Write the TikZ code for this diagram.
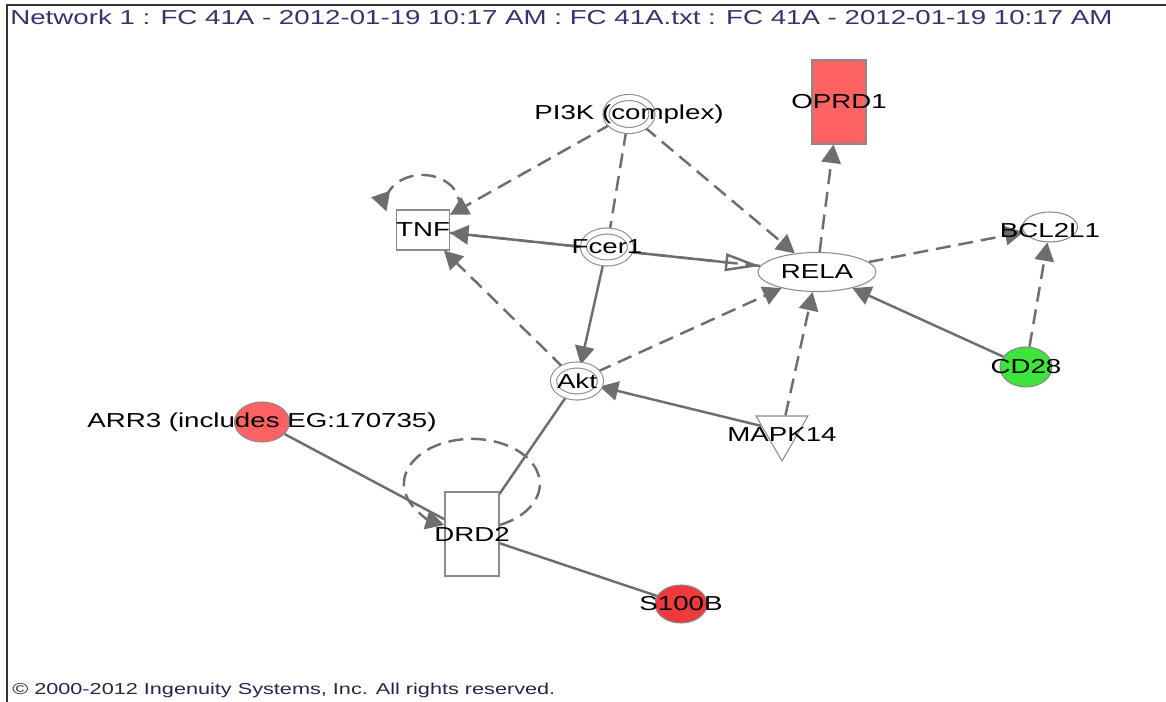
\documentclass[tikz,border=0pt]{standalone}
\usepackage{fontspec}
\setmainfont{Liberation Sans}[FakeStretch=1.37]
\usetikzlibrary{arrows.meta}
\usetikzlibrary{shapes.geometric}
\usetikzlibrary{backgrounds}

\definecolor{edgegray}{HTML}{6E6E6E}
\definecolor{bordergray}{HTML}{8A8A8A}
\definecolor{titleblue}{HTML}{34346E}
\definecolor{uplight}{HTML}{FF6262}
\definecolor{upstrong}{HTML}{EE3A3A}
\definecolor{downgreen}{HTML}{3CE43C}

\begin{document}
\begin{tikzpicture}[x=0.02cm,y=-0.02cm,
  gene/.style={draw=bordergray,line width=0.6pt,fill=white,inner sep=0pt},
  complexgene/.style={gene,ellipse,double=white,double distance=0.1cm},
  every label/.style={font=\fontsize{11.5}{12}\selectfont,inner sep=0pt},
  edge/.style={draw=edgegray,line width=1.4pt},
  dashed edge/.style={edge,dash pattern=on 8.5pt off 4.5pt},
  acts/.style={-{Triangle[length=10.5pt,width=11pt]}},
  leadsto/.style={-{Triangle[open,length=20pt,width=10pt]}}
]
\useasboundingbox (0,0) rectangle (1166,702);

\draw[line width=0.7pt,black!80] (7,702) -- (7,5) -- (1166,5);

\node (title) at (10,17) [anchor=west,inner sep=0pt,text=titleblue,font=\fontsize{11.5}{12}\selectfont]
{Network 1 : FC 41A - 2012-01-19 10:17 AM : FC 41A.txt : FC 41A - 2012-01-19 10:17 AM};
\node (rights) at (12,690) [anchor=west,inner sep=0pt,text=titleblue!70!black,font=\fontsize{9}{10}\selectfont]
{© 2000-2012 Ingenuity Systems, Inc. All rights reserved.};

\node (pi3k) at (629,114) [complexgene,minimum width=0.92cm,minimum height=0.66cm,label=center:PI3K (complex)] {};
\node (fcer1) at (607,247) [complexgene,minimum width=0.94cm,minimum height=0.64cm,label=center:Fcer1] {};
\node (akt) at (577,381) [complexgene,minimum width=0.94cm,minimum height=0.64cm,label=center:Akt] {};
\node (oprd1) at (839,102) [gene,rectangle,fill=uplight,minimum width=1.08cm,minimum height=1.68cm,label=center:OPRD1] {};
\node (tnf) at (423,230) [gene,rectangle,minimum width=1.06cm,minimum height=0.8cm,label=center:TNF] {};
\node (rela) at (817,272) [gene,ellipse,minimum width=2.36cm,minimum height=0.78cm,label=center:RELA] {};
\node (bcl2l1) at (1050,227) [gene,ellipse,minimum width=1.1cm,minimum height=0.6cm,label={[yshift=-0.08cm]center:BCL2L1}] {};
\node (cd28) at (1026,367) [gene,ellipse,fill=downgreen,minimum width=1.04cm,minimum height=0.8cm,label=center:CD28] {};
\node (mapk14) at (782,431) [gene,regular polygon,regular polygon sides=3,shape border rotate=180,minimum size=1.2cm,label={[yshift=-0.08cm]center:MAPK14}] {};
\node (arr3) at (262,422) [gene,ellipse,fill=uplight,minimum width=1.1cm,minimum height=0.8cm,label=center:ARR3 (includes EG:170735)] {};
\node (drd2) at (472,534) [gene,rectangle,minimum width=1.08cm,minimum height=1.68cm,label=center:DRD2] {};
\node (s100b) at (681,604) [gene,ellipse,fill=upstrong,minimum width=1.04cm,minimum height=0.76cm,label=center:S100B] {};

\begin{scope}[on background layer]
\draw[dashed edge,acts] (pi3k) -- (tnf);
\draw[dashed edge] (pi3k) -- (fcer1);
\draw[dashed edge,acts] (pi3k) -- (rela);
\draw[edge,leadsto] (tnf) -- (rela);
\draw[dashed edge,acts] (rela) -- (tnf);
\draw[edge,acts] (fcer1) -- (akt);
\draw[dashed edge,acts] (akt) -- (tnf);
\draw[dashed edge,acts] (akt) -- (rela);
\draw[edge,acts] (mapk14) -- (akt);
\draw[dashed edge,acts] (mapk14) -- (rela);
\draw[dashed edge,acts] (rela) -- (oprd1);
\draw[dashed edge,acts] (rela) -- (bcl2l1);
\draw[edge,acts] (cd28) -- (rela);
\draw[dashed edge,acts] (cd28) -- (bcl2l1);
\draw[edge] (arr3) -- (drd2);
\draw[edge] (drd2) -- (s100b);
\draw[edge] (drd2) -- (akt);
\draw[dashed edge,acts] ([xshift=0.16cm,yshift=-0.04cm]tnf.north east)
  arc[start angle=-15,end angle=195,x radius=0.74cm,y radius=0.58cm];
\draw[dashed edge,acts] ([yshift=0.18cm]drd2.east)
  arc[start angle=-66,end angle=246,x radius=1.36cm,y radius=0.9cm];
\end{scope}

\end{tikzpicture}
\end{document}
